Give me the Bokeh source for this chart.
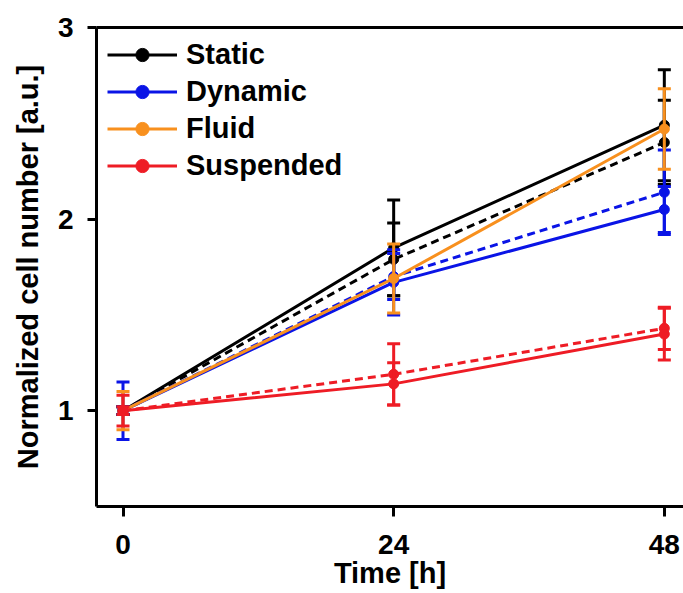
from bokeh.plotting import figure
from bokeh.models import Range1d, FixedTicker, LinearAxis, Legend, LegendItem, ColumnDataSource
from bokeh.embed import file_html
from bokeh.resources import INLINE

# Time points (h)
hours = [0, 24, 48]

# Normalized cell number, mean and standard deviation per condition
static_mean = [1.00, 1.85, 2.49]
static_sd = [0.02, 0.25, 0.29]
static_ctrl_mean = [1.00, 1.79, 2.40]
static_ctrl_sd = [0.02, 0.19, 0.22]

dynamic_mean = [1.00, 1.67, 2.05]
dynamic_sd = [0.15, 0.17, 0.12]
dynamic_ctrl_mean = [1.00, 1.70, 2.14]
dynamic_ctrl_sd = [0.02, 0.12, 0.22]

fluid_mean = [1.00, 1.69, 2.47]
fluid_sd = [0.10, 0.18, 0.21]

suspended_mean = [1.00, 1.14, 1.40]
suspended_sd = [0.08, 0.11, 0.135]
suspended_ctrl_mean = [1.00, 1.19, 1.43]
suspended_ctrl_sd = [0.02, 0.16, 0.11]

FONT = "Liberation Sans"
LW = 3

p = figure(width=683, height=593,
           x_range=Range1d(-2.35, 49.7), y_range=Range1d(0.5, 3.0),
           output_backend="svg", toolbar_location=None,
           min_border_left=96, min_border_right=0,
           min_border_top=27, min_border_bottom=87)
p.outline_line_color = None
p.xgrid.visible = False
p.ygrid.visible = False
p.background_fill_color = "white"
p.border_fill_color = "white"


def draw_series(mean, sd, color, dash="solid"):
    lo = [m - s for m, s in zip(mean, sd)]
    hi = [m + s for m, s in zip(mean, sd)]
    src = ColumnDataSource(dict(t=hours, m=mean, lo=lo, hi=hi))
    line = p.line("t", "m", source=src, line_color=color, line_width=LW, line_dash=dash)
    p.segment("t", "lo", "t", "hi", source=src, line_color=color, line_width=LW)
    p.scatter("t", "lo", source=src, marker="dash", size=13, line_color=color, line_width=3)
    p.scatter("t", "hi", source=src, marker="dash", size=13, line_color=color, line_width=3)
    dots = p.scatter("t", "m", source=src, marker="circle", size=10,
                     fill_color=color, line_color=color, line_width=1)
    return line, dots


BLACK = "#000000"
BLUE = "#0a14e6"
ORANGE = "#f8901e"
RED = "#ee1c25"

draw_series(static_ctrl_mean, static_ctrl_sd, BLACK, "8 5")
r_static = draw_series(static_mean, static_sd, BLACK)
draw_series(dynamic_ctrl_mean, dynamic_ctrl_sd, BLUE, "8 5")
r_dynamic = draw_series(dynamic_mean, dynamic_sd, BLUE)
r_fluid = draw_series(fluid_mean, fluid_sd, ORANGE)
draw_series(suspended_ctrl_mean, suspended_ctrl_sd, RED, "8 5")
r_susp = draw_series(suspended_mean, suspended_sd, RED)

# Axes
for ax in (p.xaxis[0], p.yaxis[0]):
    ax.axis_line_width = LW
    ax.major_tick_line_width = LW
    ax.major_tick_in = 0
    ax.minor_tick_out = 0
    ax.minor_tick_in = 0
    ax.major_label_text_font = FONT
    ax.major_label_text_font_style = "bold"
    ax.major_label_text_font_size = "28px"
    ax.major_label_text_color = "black"
    ax.axis_label_text_font = FONT
    ax.axis_label_text_font_style = "bold"
    ax.axis_label_text_font_size = "29px"
    ax.axis_label_text_color = "black"

p.xaxis.ticker = FixedTicker(ticks=hours)
p.xaxis.major_tick_out = 10
p.xaxis.major_label_standoff = 18
p.xaxis.axis_label = "Time [h]"
p.xaxis.axis_label_standoff = 0

p.yaxis.ticker = FixedTicker(ticks=[1, 2, 3])
p.yaxis.major_tick_out = 9
p.yaxis.major_label_standoff = 14
p.yaxis.axis_label = "Normalized cell number [a.u.]"
p.yaxis.axis_label_standoff = 11

# Top border line of the plot box
top = LinearAxis(ticker=FixedTicker(ticks=[]), axis_line_width=LW,
                 major_tick_out=0, major_tick_in=0, minor_tick_out=0, minor_tick_in=0,
                 major_label_text_font_size="0px")
p.add_layout(top, "above")

legend = Legend(items=[
    LegendItem(label="Static", renderers=list(r_static)),
    LegendItem(label="Dynamic", renderers=list(r_dynamic)),
    LegendItem(label="Fluid", renderers=list(r_fluid)),
    LegendItem(label="Suspended", renderers=list(r_susp)),
], location="top_left")
legend.margin = 11
legend.padding = 0
legend.spacing = 4
legend.glyph_width = 70
legend.glyph_height = 33
legend.label_height = 33
legend.label_standoff = 9
legend.label_text_font = FONT
legend.label_text_font_style = "bold"
legend.label_text_font_size = "29px"
legend.label_text_color = "black"
legend.border_line_color = None
legend.background_fill_alpha = 0
p.add_layout(legend)

open("out.html", "w").write(file_html(p, INLINE))
